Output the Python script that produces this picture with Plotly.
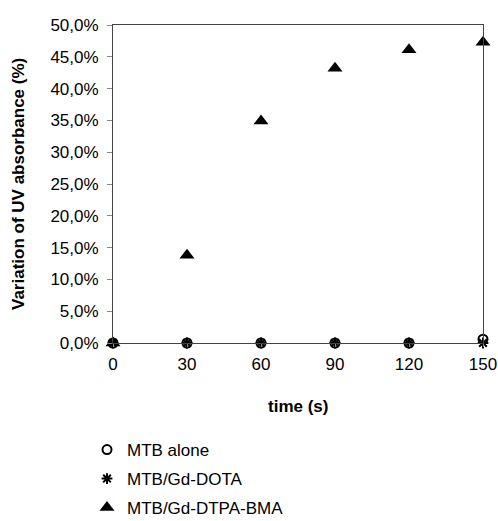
import plotly.graph_objects as go

time_s = [0, 30, 60, 90, 120, 150]
mtb_alone = [0.0, 0.0, 0.0, 0.0, 0.0, 0.006]
mtb_gd_dota = [0.0, 0.0, 0.0, 0.0, 0.0, 0.0]
mtb_gd_dtpa_bma = [0.0, 0.138, 0.349, 0.432, 0.461, 0.473]
y_ticks = [0, 0.05, 0.10, 0.15, 0.20, 0.25, 0.30, 0.35, 0.40, 0.45, 0.50]
y_tick_text = ["0,0%", "5,0%", "10,0%", "15,0%", "20,0%", "25,0%", "30,0%", "35,0%", "40,0%", "45,0%", "50,0%"]

FONT = "Liberation Sans, Arial, sans-serif"
W, H = 498, 521
ML, MR, MT, MB = 113, 15, 25, 178
PH = H - MT - MB
PW = W - ML - MR

fig = go.Figure()
fig.add_trace(go.Scatter(x=time_s, y=mtb_alone, mode="markers", name="MTB alone", legend="legend",
                         marker=dict(symbol="circle-open", size=9, color="black", line=dict(width=2))))
fig.add_trace(go.Scatter(x=time_s, y=mtb_gd_dota, mode="markers", name="MTB/Gd-DOTA", legend="legend2",
                         marker=dict(symbol="asterisk-open", size=9, color="black", line=dict(width=2))))
fig.add_trace(go.Scatter(x=time_s, y=mtb_gd_dtpa_bma, mode="markers", name="MTB/Gd-DTPA-BMA", legend="legend3",
                         marker=dict(symbol="triangle-up", size=13, color="black")))

def leg(py):
    return dict(x=(87 - ML) / PW, y=(H - MB - py) / PH,
                xanchor="left", yanchor="middle",
                font=dict(size=17, family=FONT), bgcolor="rgba(0,0,0,0)")

fig.update_layout(
    width=W, height=H,
    margin=dict(l=ML, r=MR, t=MT, b=MB, autoexpand=False),
    paper_bgcolor="white", plot_bgcolor="white",
    font=dict(family=FONT, size=17, color="black"),
    showlegend=True,
    legend=leg(450),
    legend2=leg(479),
    legend3=leg(508),
    xaxis=dict(range=[0, 150], tickvals=time_s, ticktext=[str(t) for t in time_s],
               showgrid=False, zeroline=False, showline=True, linecolor="#444", linewidth=1,
               mirror=True, ticks="outside", ticklen=3, tickcolor="#888", ticklabelstandoff=3,
               tickfont=dict(size=17), automargin=False),
    yaxis=dict(range=[0, 0.5], tickvals=y_ticks, ticktext=y_tick_text,
               showgrid=False, zeroline=False, showline=True, linecolor="#444", linewidth=1,
               mirror=True, ticks="outside", ticklen=5, tickcolor="#888", ticklabelstandoff=5,
               tickfont=dict(size=17), automargin=False),
    annotations=[
        dict(text="<b>time (s)</b>", xref="paper", yref="paper",
             x=(298 - ML) / PW, y=(H - MB - 406) / PH, xanchor="center", yanchor="middle",
             showarrow=False, font=dict(size=17, family=FONT)),
        dict(text="<b>Variation of UV absorbance (%)</b>", xref="paper", yref="paper",
             x=(18 - ML) / PW, y=0.5, xanchor="center", yanchor="middle", textangle=-90,
             showarrow=False, font=dict(size=17, family=FONT)),
    ],
)
for tr in fig.data:
    tr.cliponaxis = False

fig.write_html("out.html")
